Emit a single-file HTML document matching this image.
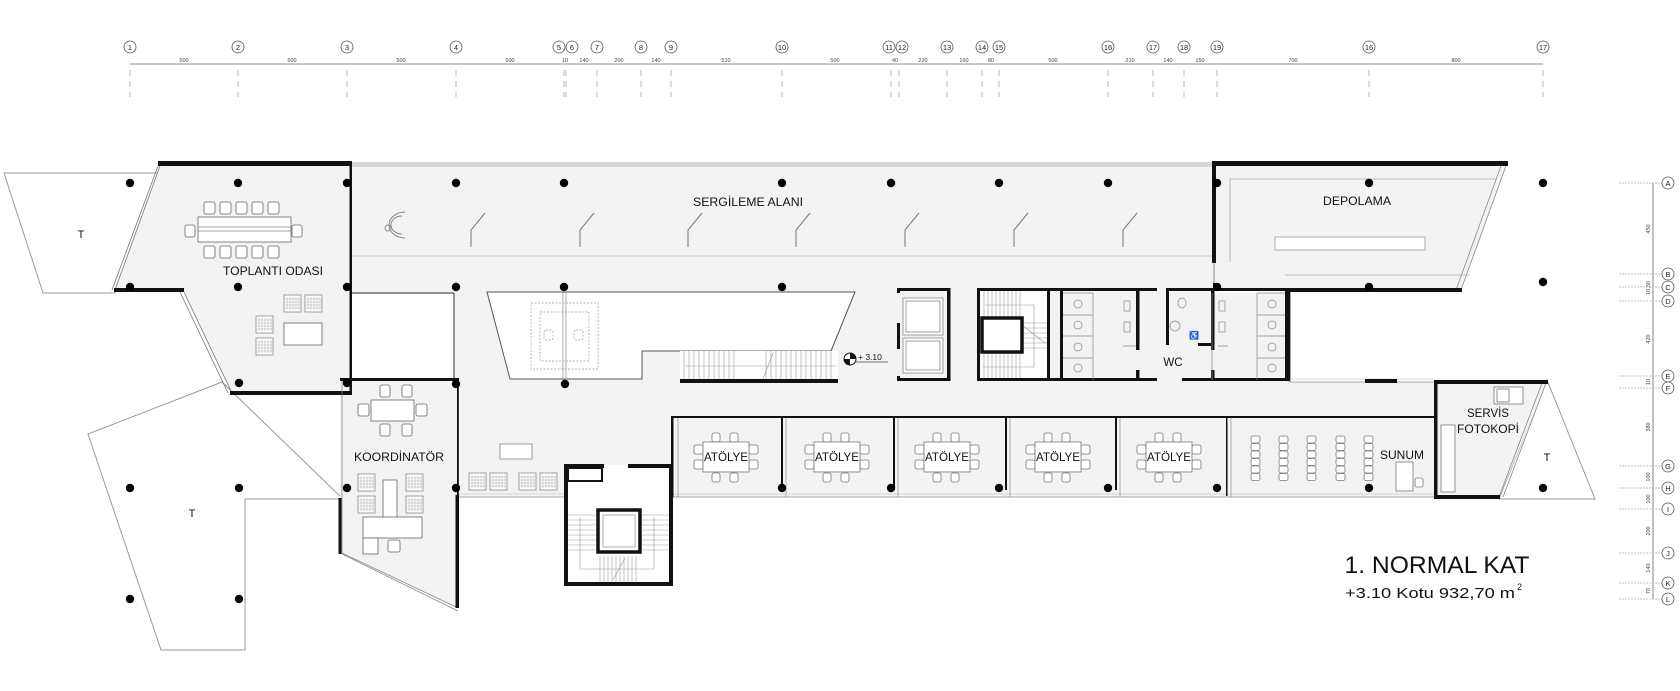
<!DOCTYPE html>
<html><head><meta charset="utf-8"><style>
html,body{margin:0;padding:0;background:#fff;}
svg{display:block;font-family:"Liberation Sans",sans-serif;}
</style></head><body>
<svg width="1680" height="691" viewBox="0 0 1680 691" xmlns="http://www.w3.org/2000/svg">
<defs>
<g id="atl">
<rect x="-14" y="-24" width="8" height="9" rx="2" fill="#fff" stroke="#777" stroke-width="0.8"/>
<rect x="4" y="-24" width="8" height="9" rx="2" fill="#fff" stroke="#777" stroke-width="0.8"/>
<rect x="-14" y="16" width="8" height="9" rx="2" fill="#fff" stroke="#777" stroke-width="0.8"/>
<rect x="4" y="16" width="8" height="9" rx="2" fill="#fff" stroke="#777" stroke-width="0.8"/>
<rect x="-32" y="-12" width="9" height="9" rx="2" fill="#fff" stroke="#777" stroke-width="0.8"/>
<rect x="-32" y="3" width="9" height="9" rx="2" fill="#fff" stroke="#777" stroke-width="0.8"/>
<rect x="23" y="-12" width="9" height="9" rx="2" fill="#fff" stroke="#777" stroke-width="0.8"/>
<rect x="23" y="3" width="9" height="9" rx="2" fill="#fff" stroke="#777" stroke-width="0.8"/>
<rect x="-23" y="-15" width="46" height="30" fill="#fff" stroke="#777" stroke-width="0.8"/>
</g>
<g id="grd"><rect width="17" height="17" fill="#fff" stroke="#888" stroke-width="0.8"/><path d="M3 2v13M6 2v13M9 2v13M12 2v13M15 2v13M1 4h15M1 7h15M1 10h15M1 13h15" stroke="#aaa" stroke-width="0.5"/></g>
<g id="pan"><path d="M0 20V3L14 -14" fill="none" stroke="#777" stroke-width="1"/></g>
<g id="dot"><circle r="4.2" fill="#000"/></g>
</defs>

<!-- ===== column grid ===== -->
<g stroke="#999" stroke-width="0.8" fill="none">
<line x1="130" y1="64" x2="1543" y2="64" stroke="#666"/>
</g>
<g stroke="#aaa" stroke-width="0.8" stroke-dasharray="6,5">
<line x1="130" y1="70" x2="130" y2="97"/><line x1="238" y1="70" x2="238" y2="97"/><line x1="347" y1="70" x2="347" y2="97"/><line x1="456" y1="70" x2="456" y2="97"/><line x1="564" y1="70" x2="564" y2="97"/><line x1="566" y1="70" x2="566" y2="97"/><line x1="597" y1="70" x2="597" y2="97"/><line x1="641" y1="70" x2="641" y2="97"/><line x1="671" y1="70" x2="671" y2="97"/><line x1="782" y1="70" x2="782" y2="97"/><line x1="891" y1="70" x2="891" y2="97"/><line x1="899" y1="70" x2="899" y2="97"/><line x1="947" y1="70" x2="947" y2="97"/><line x1="982" y1="70" x2="982" y2="97"/><line x1="999" y1="70" x2="999" y2="97"/><line x1="1108" y1="70" x2="1108" y2="97"/><line x1="1153" y1="70" x2="1153" y2="97"/><line x1="1184" y1="70" x2="1184" y2="97"/><line x1="1217" y1="70" x2="1217" y2="97"/><line x1="1369" y1="70" x2="1369" y2="97"/><line x1="1543" y1="70" x2="1543" y2="97"/>
</g>
<g fill="#fff" stroke="#555" stroke-width="0.8">
<circle cx="130" cy="47" r="6"/><circle cx="238" cy="47" r="6"/><circle cx="347" cy="47" r="6"/><circle cx="456" cy="47" r="6"/><circle cx="559" cy="47" r="6"/><circle cx="572" cy="47" r="6"/><circle cx="597" cy="47" r="6"/><circle cx="641" cy="47" r="6"/><circle cx="671" cy="47" r="6"/><circle cx="782" cy="47" r="6"/><circle cx="889" cy="47" r="6"/><circle cx="902" cy="47" r="6"/><circle cx="947" cy="47" r="6"/><circle cx="982" cy="47" r="6"/><circle cx="999" cy="47" r="6"/><circle cx="1108" cy="47" r="6"/><circle cx="1153" cy="47" r="6"/><circle cx="1184" cy="47" r="6"/><circle cx="1217" cy="47" r="6"/><circle cx="1369" cy="47" r="6"/><circle cx="1543" cy="47" r="6"/>
</g>
<g font-size="7.5" fill="#222" text-anchor="middle">
<text x="130" y="50">1</text><text x="238" y="50">2</text><text x="347" y="50">3</text><text x="456" y="50">4</text><text x="559" y="50">5</text><text x="572" y="50">6</text><text x="597" y="50">7</text><text x="641" y="50">8</text><text x="671" y="50">9</text><text x="782" y="50">10</text><text x="889" y="50">11</text><text x="902" y="50">12</text><text x="947" y="50">13</text><text x="982" y="50">14</text><text x="999" y="50">15</text><text x="1108" y="50">16</text><text x="1153" y="50">17</text><text x="1184" y="50">18</text><text x="1217" y="50">19</text><text x="1369" y="50">16</text><text x="1543" y="50">17</text>
</g>
<g font-size="5.5" fill="#444" text-anchor="middle">
<text x="184" y="62">500</text><text x="292" y="62">500</text><text x="401" y="62">500</text><text x="510" y="62">500</text><text x="565" y="62">10</text><text x="584" y="62">140</text><text x="619" y="62">200</text><text x="656" y="62">140</text><text x="726" y="62">510</text><text x="835" y="62">500</text><text x="895" y="62">40</text><text x="923" y="62">220</text><text x="964" y="62">160</text><text x="991" y="62">80</text><text x="1053" y="62">500</text><text x="1130" y="62">210</text><text x="1168" y="62">140</text><text x="1200" y="62">150</text><text x="1293" y="62">700</text><text x="1456" y="62">800</text>
</g>

<!-- ===== right grid ===== -->
<line x1="1653" y1="183" x2="1653" y2="599" stroke="#666" stroke-width="0.8"/>
<g stroke="#aaa" stroke-width="0.8" stroke-dasharray="2,1">
<line x1="1619" y1="183" x2="1662" y2="183"/><line x1="1619" y1="274" x2="1662" y2="274"/><line x1="1619" y1="287" x2="1662" y2="287"/><line x1="1619" y1="301" x2="1662" y2="301"/><line x1="1619" y1="376" x2="1662" y2="376"/><line x1="1619" y1="388" x2="1662" y2="388"/><line x1="1619" y1="466" x2="1662" y2="466"/><line x1="1619" y1="488" x2="1662" y2="488"/><line x1="1619" y1="509" x2="1662" y2="509"/><line x1="1619" y1="553" x2="1662" y2="553"/><line x1="1619" y1="583" x2="1662" y2="583"/><line x1="1619" y1="599" x2="1662" y2="599"/>
</g>
<g fill="#fff" stroke="#555" stroke-width="0.8">
<circle cx="1668" cy="183" r="6"/><circle cx="1668" cy="274" r="6"/><circle cx="1668" cy="287" r="6"/><circle cx="1668" cy="301" r="6"/><circle cx="1668" cy="376" r="6"/><circle cx="1668" cy="388" r="6"/><circle cx="1668" cy="466" r="6"/><circle cx="1668" cy="488" r="6"/><circle cx="1668" cy="509" r="6"/><circle cx="1668" cy="553" r="6"/><circle cx="1668" cy="583" r="6"/><circle cx="1668" cy="599" r="6"/>
</g>
<g font-size="7.5" fill="#222" text-anchor="middle">
<text x="1668" y="186">A</text><text x="1668" y="277">B</text><text x="1668" y="290">C</text><text x="1668" y="304">D</text><text x="1668" y="379">E</text><text x="1668" y="391">F</text><text x="1668" y="469">G</text><text x="1668" y="491">H</text><text x="1668" y="512">I</text><text x="1668" y="556">J</text><text x="1668" y="586">K</text><text x="1668" y="602">L</text>
</g>
<g font-size="5.5" fill="#444" text-anchor="middle">
<text transform="translate(1650,229) rotate(-90)">450</text>
<text transform="translate(1650,288) rotate(-90)">10,30</text>
<text transform="translate(1650,339) rotate(-90)">420</text>
<text transform="translate(1650,382) rotate(-90)">10</text>
<text transform="translate(1650,427) rotate(-90)">380</text>
<text transform="translate(1650,477) rotate(-90)">100</text>
<text transform="translate(1650,499) rotate(-90)">100</text>
<text transform="translate(1650,531) rotate(-90)">200</text>
<text transform="translate(1650,568) rotate(-90)">140</text>
<text transform="translate(1650,591) rotate(-90)">70</text>
</g>

<!-- ===== terraces ===== -->
<g fill="#fff" stroke="#999" stroke-width="1">
<polygon points="4,173 161,173 115,293 43,293"/>
<polygon points="88,434 222,382 343,499 245,499 245,650 161,650"/>
<polygon points="1547,380 1595,499 1499,499"/>
</g>

<!-- ===== grey floor ===== -->
<g fill="#f3f3f3" stroke="none">
<rect x="351" y="162" width="864" height="131"/>
<rect x="454" y="293" width="836" height="90"/>
<rect x="458" y="382" width="978" height="115"/>
<polygon points="161,163 351,163 351,393 232,393 183,290 115,290"/>
<polygon points="340,380 458,380 458,608 340,553"/>
<polygon points="1214,163 1507,163 1461,290 1214,290"/>
<polygon points="1436,382 1547,382 1499,498 1436,498"/>
</g>
<!-- top grey strip -->
<rect x="351" y="162" width="864" height="5" fill="#d6d6d6"/>
<line x1="351" y1="256" x2="1214" y2="256" stroke="#ccc" stroke-width="1"/>

<!-- void -->
<polygon points="487,292 855,292 831,351 642,351 642,379 510,379" fill="#fff" stroke="#555" stroke-width="1"/>
<g fill="none" stroke="#999" stroke-width="0.7" stroke-dasharray="2,1.5">
<rect x="531" y="303" width="67" height="66"/><rect x="540" y="312" width="49" height="49"/>
<rect x="544" y="330" width="9" height="10" rx="2"/><rect x="574" y="330" width="9" height="10" rx="2"/>
</g>
<line x1="563" y1="292" x2="563" y2="384" stroke="#999" stroke-width="0.8"/>
<line x1="566" y1="292" x2="566" y2="384" stroke="#999" stroke-width="0.8"/>
<!-- upper stair -->
<rect x="680" y="351" width="158" height="28" fill="#fff" stroke="none"/>
<g stroke="#999" stroke-width="0.6">
<path d="M684 351v28M689 351v28M694 351v28M699 351v28M704 351v28M709 351v28M714 351v28M719 351v28M724 351v28M729 351v28M734 351v28M766 351v28M771 351v28M776 351v28M781 351v28M786 351v28M791 351v28M796 351v28M801 351v28M806 351v28M811 351v28M816 351v28M821 351v28M826 351v28M831 351v28"/>
<path d="M685 366H836M773 353l-10 26"/>
</g>
<rect x="680" y="379" width="158" height="4" fill="#111"/>
<!-- white zone between toplanti and corridor -->
<rect x="351" y="293" width="103" height="87" fill="#fff"/>
<line x1="351" y1="293" x2="454" y2="293" stroke="#555" stroke-width="1.2"/>
<line x1="454" y1="293" x2="454" y2="382" stroke="#555" stroke-width="1.2"/>
<line x1="1290" y1="290" x2="1290" y2="382" stroke="#555" stroke-width="1"/>

<!-- exhibit details -->
<g fill="none" stroke="#888" stroke-width="1">
<path d="M405 212 A16 13 0 1 0 405 238" /><path d="M402 216 A11 9 0 1 0 402 234"/>
<circle cx="388" cy="228" r="3"/>
</g>
<use href="#pan" x="471" y="227"/><use href="#pan" x="580" y="227"/><use href="#pan" x="688" y="227"/><use href="#pan" x="796" y="227"/><use href="#pan" x="905" y="227"/><use href="#pan" x="1014" y="227"/><use href="#pan" x="1123" y="227"/>
<text x="748" y="206" font-size="11.5" text-anchor="middle" fill="#111" textLength="110" lengthAdjust="spacingAndGlyphs">SERGİLEME ALANI</text>

<!-- ===== toplanti ===== -->
<path d="M161 163 L115 290 M158 166 L112 290" stroke="#777" stroke-width="0.8" fill="none"/>
<path d="M183 290 L232 393 M180 292 L228 393" stroke="#777" stroke-width="0.8" fill="none"/>
<rect x="158" y="161" width="193" height="5" fill="#111"/>
<rect x="114" y="288" width="70" height="4" fill="#111"/>
<rect x="230" y="391" width="120" height="4" fill="#111"/>
<rect x="349.5" y="161" width="2.5" height="234" fill="#111"/>
<g fill="#fff" stroke="#666" stroke-width="0.8">
<rect x="204" y="202" width="11" height="12" rx="2"/><rect x="220" y="202" width="11" height="12" rx="2"/><rect x="236" y="202" width="11" height="12" rx="2"/><rect x="252" y="202" width="11" height="12" rx="2"/><rect x="268" y="202" width="11" height="12" rx="2"/>
<rect x="204" y="246" width="11" height="12" rx="2"/><rect x="220" y="246" width="11" height="12" rx="2"/><rect x="236" y="246" width="11" height="12" rx="2"/><rect x="252" y="246" width="11" height="12" rx="2"/><rect x="268" y="246" width="11" height="12" rx="2"/>
<rect x="185" y="225" width="10" height="12" rx="2"/><rect x="292" y="225" width="10" height="12" rx="2"/>
<rect x="198" y="217" width="93" height="25"/>
<rect x="284" y="323" width="38" height="22"/>
</g>
<path d="M198 227H291M198 231H291" stroke="#888" stroke-width="0.7"/>
<use href="#grd" x="284" y="295"/><use href="#grd" x="305" y="295"/><use href="#grd" x="256" y="316"/><use href="#grd" x="256" y="338"/>
<text x="273" y="275" font-size="11.5" text-anchor="middle" fill="#111" textLength="100" lengthAdjust="spacingAndGlyphs">TOPLANTI ODASI</text>

<!-- ===== koordinator ===== -->
<path d="M342 380V553L458 608" stroke="#888" stroke-width="0.8" fill="none"/>
<path d="M340 553L458 611" stroke="#888" stroke-width="0.8" fill="none"/>
<rect x="340" y="378" width="119" height="3" fill="#111"/>
<rect x="457" y="378" width="1.8" height="120" fill="#111"/>
<rect x="455.5" y="495" width="3.5" height="113" fill="#111"/>
<rect x="338.5" y="498" width="3" height="56" fill="#111"/>
<g fill="#fff" stroke="#666" stroke-width="0.8">
<rect x="380" y="385" width="10" height="12" rx="2"/><rect x="402" y="385" width="10" height="12" rx="2"/>
<rect x="380" y="424" width="10" height="12" rx="2"/><rect x="402" y="424" width="10" height="12" rx="2"/>
<rect x="358" y="404" width="11" height="12" rx="2"/><rect x="416" y="404" width="11" height="12" rx="2"/>
<rect x="371" y="400" width="43" height="21"/>
<rect x="383" y="480" width="14" height="38"/>
<rect x="363" y="517" width="59" height="21"/><rect x="363" y="538" width="15" height="16"/>
<rect x="388" y="540" width="12" height="12" rx="2"/>
</g>
<use href="#grd" x="358" y="474"/><use href="#grd" x="406" y="474"/><use href="#grd" x="358" y="496"/><use href="#grd" x="406" y="496"/>
<text x="399" y="461" font-size="11.5" text-anchor="middle" fill="#111" textLength="90" lengthAdjust="spacingAndGlyphs">KOORDİNATÖR</text>

<!-- ===== corridor ===== -->
<line x1="459" y1="497" x2="1436" y2="497" stroke="#aaa" stroke-width="1"/>
<line x1="459" y1="494" x2="1436" y2="494" stroke="#ccc" stroke-width="0.8"/>
<rect x="500" y="444" width="32" height="15" fill="#fff" stroke="#888" stroke-width="0.8"/>
<use href="#grd" x="469" y="473"/><use href="#grd" x="490" y="473"/><use href="#grd" x="519" y="473"/><use href="#grd" x="540" y="473"/>

<!-- ateliers -->
<rect x="671" y="416" width="765" height="2" fill="#111"/>
<rect x="671" y="416" width="2.5" height="81" fill="#111"/>
<g fill="#111">
<rect x="781" y="416" width="2" height="74"/><rect x="893" y="416" width="2" height="74"/><rect x="1005" y="416" width="2" height="74"/><rect x="1115" y="416" width="2" height="74"/><rect x="1226" y="416" width="1.5" height="80"/>
</g>
<g stroke="#999" stroke-width="0.8"><path d="M678 418V497M786 418V497M898 418V497M1010 418V497M1120 418V497M1231 418V497"/></g>
<use href="#atl" x="726" y="457"/><use href="#atl" x="837" y="457"/><use href="#atl" x="947" y="457"/><use href="#atl" x="1058" y="457"/><use href="#atl" x="1169" y="457"/>
<g font-size="11.5" text-anchor="middle" fill="#111">
<text x="726" y="461" textLength="44" lengthAdjust="spacingAndGlyphs">ATÖLYE</text><text x="837" y="461" textLength="44" lengthAdjust="spacingAndGlyphs">ATÖLYE</text><text x="947" y="461" textLength="44" lengthAdjust="spacingAndGlyphs">ATÖLYE</text><text x="1058" y="461" textLength="44" lengthAdjust="spacingAndGlyphs">ATÖLYE</text><text x="1169" y="461" textLength="44" lengthAdjust="spacingAndGlyphs">ATÖLYE</text>
</g>
<!-- sunum -->
<g fill="#fff" stroke="#777" stroke-width="0.8">
<rect x="1251" y="436" width="9" height="7" rx="2"/><rect x="1251" y="443.5" width="9" height="7" rx="2"/><rect x="1251" y="451" width="9" height="7" rx="2"/><rect x="1251" y="458.5" width="9" height="7" rx="2"/><rect x="1251" y="466" width="9" height="7" rx="2"/><rect x="1251" y="473.5" width="9" height="7" rx="2"/>
<rect x="1279" y="436" width="9" height="7" rx="2"/><rect x="1279" y="443.5" width="9" height="7" rx="2"/><rect x="1279" y="451" width="9" height="7" rx="2"/><rect x="1279" y="458.5" width="9" height="7" rx="2"/><rect x="1279" y="466" width="9" height="7" rx="2"/><rect x="1279" y="473.5" width="9" height="7" rx="2"/>
<rect x="1307" y="436" width="9" height="7" rx="2"/><rect x="1307" y="443.5" width="9" height="7" rx="2"/><rect x="1307" y="451" width="9" height="7" rx="2"/><rect x="1307" y="458.5" width="9" height="7" rx="2"/><rect x="1307" y="466" width="9" height="7" rx="2"/><rect x="1307" y="473.5" width="9" height="7" rx="2"/>
<rect x="1336" y="436" width="9" height="7" rx="2"/><rect x="1336" y="443.5" width="9" height="7" rx="2"/><rect x="1336" y="451" width="9" height="7" rx="2"/><rect x="1336" y="458.5" width="9" height="7" rx="2"/><rect x="1336" y="466" width="9" height="7" rx="2"/><rect x="1336" y="473.5" width="9" height="7" rx="2"/>
<rect x="1364" y="436" width="9" height="7" rx="2"/><rect x="1364" y="443.5" width="9" height="7" rx="2"/><rect x="1364" y="451" width="9" height="7" rx="2"/><rect x="1364" y="458.5" width="9" height="7" rx="2"/><rect x="1364" y="466" width="9" height="7" rx="2"/><rect x="1364" y="473.5" width="9" height="7" rx="2"/>
<rect x="1396" y="462" width="17" height="29"/><rect x="1415" y="478" width="8" height="9" rx="2"/>
</g>
<text x="1402" y="459" font-size="11.5" text-anchor="middle" fill="#111" textLength="44" lengthAdjust="spacingAndGlyphs">SUNUM</text>

<!-- servis -->
<path d="M1542 383L1499 497M1546 383L1503 497" stroke="#888" stroke-width="0.8" fill="none"/>
<rect x="1434" y="380" width="114" height="4" fill="#111"/>
<rect x="1434" y="380" width="3.5" height="119" fill="#111"/>
<rect x="1434" y="495" width="66" height="4" fill="#111"/>
<g fill="#fff" stroke="#777" stroke-width="0.8"><rect x="1494" y="387" width="29" height="17"/><rect x="1497" y="389" width="12" height="13"/><rect x="1441" y="425" width="14" height="67"/></g>
<text x="1488" y="417" font-size="11.5" text-anchor="middle" fill="#111">SERVİS</text>
<text x="1488" y="433" font-size="11.5" text-anchor="middle" fill="#111" textLength="62" lengthAdjust="spacingAndGlyphs">FOTOKOPİ</text>
<line x1="1290" y1="382" x2="1434" y2="382" stroke="#aaa" stroke-width="1"/>
<line x1="1290" y1="379" x2="1434" y2="379" stroke="#ccc" stroke-width="0.8"/>
<rect x="1365" y="379" width="32" height="4" fill="#111"/>

<!-- depolama -->
<path d="M1507 163L1461 290M1502 163L1456 290" stroke="#888" stroke-width="0.8" fill="none"/>
<path d="M1230 262V179H1496M1285 275H1470" stroke="#aaa" stroke-width="0.8" fill="none"/>
<rect x="1275" y="237" width="150" height="13" fill="#fff" stroke="#999" stroke-width="0.8"/>
<rect x="1212" y="161" width="296" height="5" fill="#111"/>
<rect x="1212" y="161" width="4" height="102" fill="#111"/>
<line x1="1214" y1="262" x2="1214" y2="290" stroke="#666" stroke-width="0.8"/>
<rect x="1285" y="288" width="177" height="4" fill="#111"/>
<text x="1357" y="205" font-size="11.5" text-anchor="middle" fill="#111" textLength="68" lengthAdjust="spacingAndGlyphs">DEPOLAMA</text>

<!-- ===== core ===== -->
<g fill="#fff" stroke="#888" stroke-width="0.8">
<rect x="903" y="298" width="40" height="37"/><rect x="903" y="338" width="40" height="35"/>
<rect x="906" y="301" width="34" height="31"/><rect x="906" y="341" width="34" height="29"/>
</g>
<g fill="#111">
<rect x="898" y="288" width="52" height="3"/><rect x="898" y="378" width="52" height="3"/>
<rect x="947" y="288" width="3.5" height="93"/>
<rect x="897" y="288" width="3" height="5"/><rect x="897" y="323" width="3" height="26"/><rect x="897" y="376" width="3" height="5"/>
</g>
<!-- stair core -->
<rect x="979" y="291" width="70" height="88" fill="#fff"/>
<g stroke="#999" stroke-width="0.6" fill="none">
<path d="M984 291v27M988 291v27M992 291v27M996 291v27M1000 291v27M1004 291v27M1008 291v27M1012 291v27M1016 291v27M1020 291v27"/>
<path d="M984 352v27M988 352v27M992 352v27M996 352v27M1000 352v27M1004 352v27M1008 352v27M1012 352v27M1016 352v27M1020 352v27"/>
<path d="M1022 323h25M1022 328h25M1022 333h25M1022 338h25M1022 343h25M1022 348h25"/>
<path d="M985 305H1034V367H983M1022 325l23 18"/>
</g>
<rect x="982" y="318" width="40" height="34" fill="#fff" stroke="#111" stroke-width="3.5"/>
<g fill="#111">
<rect x="977" y="288" width="180" height="3"/>
<rect x="977" y="378" width="180" height="3"/>
<rect x="977" y="288" width="3" height="93"/>
<rect x="1047" y="288" width="3" height="93"/>
<rect x="1060" y="288" width="3" height="93"/>
<rect x="1136" y="288" width="3.5" height="62"/><rect x="1136" y="370" width="3.5" height="11"/>
<rect x="1182" y="378" width="108" height="3"/>
<rect x="1166" y="288" width="124" height="3"/>
<rect x="1166" y="288" width="3" height="57"/>
<rect x="1211" y="288" width="3.5" height="62"/><rect x="1211" y="370" width="3.5" height="11"/>
<rect x="1198" y="343" width="16" height="3"/>
<rect x="1213" y="283" width="3" height="7"/>
<rect x="1285" y="288" width="5" height="93"/>
</g>
<g fill="none" stroke="#888" stroke-width="0.7">
<path d="M1063 293H1093V380M1063 315H1093M1063 336H1093M1063 358H1093"/>
<path d="M1257 293H1285M1257 315H1285M1257 336H1285M1257 358H1285M1257 293V380"/>
<path d="M1212 293V380"/>
<ellipse cx="1078" cy="304" rx="4" ry="4"/><ellipse cx="1078" cy="325" rx="4" ry="4"/><ellipse cx="1078" cy="347" rx="4" ry="4"/><ellipse cx="1078" cy="368" rx="4" ry="4"/>
<ellipse cx="1272" cy="304" rx="4" ry="4"/><ellipse cx="1272" cy="325" rx="4" ry="4"/><ellipse cx="1272" cy="347" rx="4" ry="4"/><ellipse cx="1272" cy="368" rx="4" ry="4"/>
<rect x="1124" y="301" width="6" height="10"/><rect x="1124" y="322" width="6" height="10"/>
<rect x="1219" y="301" width="6" height="10"/><rect x="1219" y="322" width="6" height="10"/>
<ellipse cx="1182" cy="303" rx="4" ry="5"/><circle cx="1175" cy="326" r="5"/>
<path d="M1123 346H1136M1218 346H1228"/>
</g>
<text x="1189" y="338" font-size="8" fill="#333">♿</text>
<text x="1173" y="366" font-size="11.5" text-anchor="middle" fill="#111">WC</text>

<!-- level marker -->
<circle cx="850" cy="359" r="6" fill="#fff" stroke="#111" stroke-width="1"/>
<path d="M850 359V353A6 6 0 0 1 856 359ZM850 359V365A6 6 0 0 1 844 359Z" fill="#111"/>
<line x1="856" y1="362" x2="888" y2="362" stroke="#444" stroke-width="0.7"/>
<text x="858" y="360" font-size="8.5" fill="#111">+ 3.10</text>

<!-- lower stair core -->
<rect x="565" y="465" width="107" height="120" fill="#fff"/>
<g stroke="#999" stroke-width="0.6" fill="none">
<path d="M568 515h28M568 520h28M568 525h28M568 530h28M568 535h28M568 540h28M568 545h28M568 550h28"/>
<path d="M642 515h28M642 520h28M642 525h28M642 530h28M642 535h28M642 540h28M642 545h28M642 550h28"/>
<path d="M600 556v27M604 556v27M608 556v27M612 556v27M616 556v27M620 556v27M624 556v27M628 556v27M632 556v27M636 556v27"/>
<path d="M580 517V569H654V517M613 580l12 -22"/>
</g>
<rect x="598" y="510" width="42" height="42" fill="#fff" stroke="#111" stroke-width="3.5"/>
<rect x="603" y="515" width="32" height="32" fill="#fff" stroke="#999" stroke-width="0.8"/>
<g fill="#111">
<rect x="564" y="464" width="40" height="4"/><rect x="628" y="464" width="45" height="4"/>
<rect x="564" y="464" width="4" height="122"/><rect x="669" y="464" width="4" height="122"/>
<rect x="564" y="582" width="109" height="4"/>
</g>
<rect x="568" y="468" width="34" height="13" fill="#fff" stroke="#111" stroke-width="2"/>

<!-- ===== column dots ===== -->
<g>
<use href="#dot" x="130" y="183"/><use href="#dot" x="238" y="183"/><use href="#dot" x="347" y="183"/><use href="#dot" x="456" y="183"/><use href="#dot" x="564" y="183"/><use href="#dot" x="782" y="183"/><use href="#dot" x="891" y="183"/><use href="#dot" x="999" y="183"/><use href="#dot" x="1108" y="183"/><use href="#dot" x="1217" y="183"/><use href="#dot" x="1369" y="183"/><use href="#dot" x="1543" y="183"/>
<use href="#dot" x="130" y="287"/><use href="#dot" x="238" y="287"/><use href="#dot" x="347" y="287"/><use href="#dot" x="456" y="287"/><use href="#dot" x="564" y="287"/><use href="#dot" x="782" y="287"/><use href="#dot" x="1217" y="287"/><use href="#dot" x="1369" y="287"/><use href="#dot" x="1543" y="282"/>
<use href="#dot" x="239" y="383"/><use href="#dot" x="347" y="383"/><use href="#dot" x="456" y="384"/><use href="#dot" x="565" y="384"/>
<use href="#dot" x="130" y="488"/><use href="#dot" x="239" y="488"/><use href="#dot" x="347" y="488"/><use href="#dot" x="456" y="488"/><use href="#dot" x="782" y="488"/><use href="#dot" x="891" y="488"/><use href="#dot" x="999" y="488"/><use href="#dot" x="1108" y="488"/><use href="#dot" x="1217" y="488"/><use href="#dot" x="1369" y="488"/><use href="#dot" x="1543" y="488"/>
<use href="#dot" x="130" y="599"/><use href="#dot" x="239" y="599"/>
</g>

<!-- terrace labels -->
<g font-size="11" fill="#111" text-anchor="middle">
<text x="81" y="238">T</text><text x="192" y="517">T</text><text x="1547" y="461">T</text>
</g>

<!-- title -->
<text x="1437" y="573" font-size="24" text-anchor="middle" fill="#111" textLength="185" lengthAdjust="spacingAndGlyphs">1. NORMAL KAT</text>
<text x="1430" y="598" font-size="15" text-anchor="middle" fill="#111" textLength="170" lengthAdjust="spacingAndGlyphs">+3.10 Kotu  932,70 m</text>
<text x="1517" y="590" font-size="9" fill="#111">2</text>
</svg>
</body></html>
